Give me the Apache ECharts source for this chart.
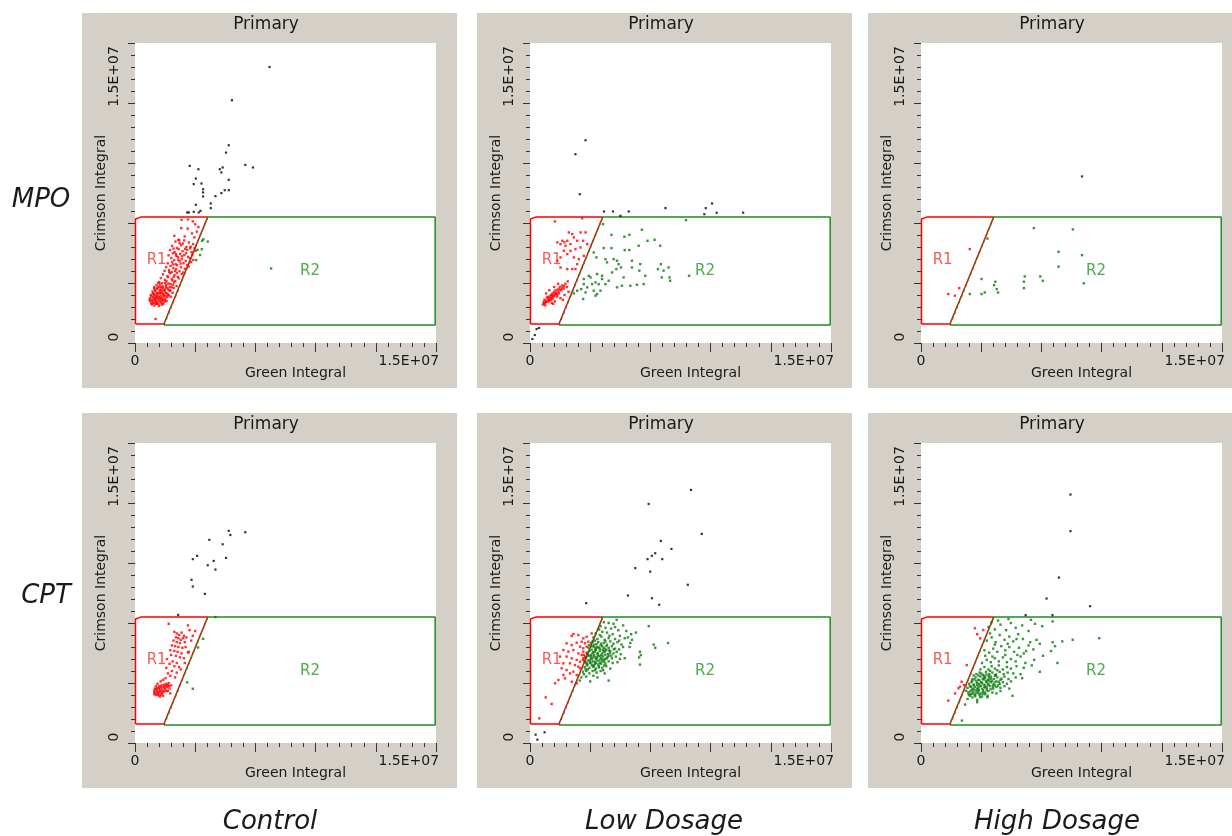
<!DOCTYPE html>
<html><head><meta charset="utf-8">
<script src="https://cdn.jsdelivr.net/npm/echarts@6/dist/echarts.min.js"></script>
<style>html,body{margin:0;padding:0;background:#fff}#c{width:1232px;height:836px}</style>
</head><body><div id="c"></div>
<script>
// All values are in millions (1 = 1E+06)
const rowNames = ['MPO', 'CPT'];
const colNames = ['Control', 'Low Dosage', 'High Dosage'];
const panelTitle = 'Primary';
const xName = 'Green Integral';
const yName = 'Crimson Integral';
const axisMin = 0, axisMax = 18.75, majorStep = 3.75;
const tickValues = [0, 15];
const tickLabels = ['0', '1.5E+07'];

const gateR1 = [[0.03,1.19],[0.03,7.75],[0.35,7.87],[4.53,7.87],[1.8,1.19],[0.03,1.19]];
const gateR2 = [[1.8,1.12],[18.7,1.12],[18.7,7.87],[4.53,7.87]];
const gateR2Edge = [[4.53,7.87],[1.8,1.12]];
const gateLabels = [['R1', 1.35, 5.2], ['R2', 10.9, 4.5]];

// ---- MPO / Control ----
const mpoControlBlack = [[8.38,17.25],[6.04,15.17],[5.84,12.36],[5.67,11.9],[3.41,11.07],[3.95,10.86],[5.28,10.86],[5.46,10.97],[5.38,10.66],[6.87,11.13],[7.35,10.97],[3.79,10.28],[4.14,9.97],[3.66,9.93],[4.24,9.61],[4.24,9.41],[4.24,9.16],[5.84,10.2],[5.59,9.55],[5.84,9.55],[5.38,9.37],[5.01,9.18],[4.72,8.72],[4.72,8.43],[3.79,8.64],[3.66,8.2],[3.97,8.16],[3.25,8.16],[3.35,8.16],[4.08,8.26]];
const mpoControlRed = [[2.9,7.7],[3.3,7.72],[3.6,7.6],[3.75,7.42],[2.88,7.18],[3.28,7.15],[3.85,6.96],[3.55,6.85],[3.7,6.6],[3.95,7.25],[2.7,6.45],[3.1,6.66],[2.45,6.7],
[2.52,6.34],[2.78,6.24],[3.06,6.41],[3.36,6.28],[3.62,6.18],[2.31,6.07],[2.62,5.94],[2.88,6.12],[3.12,5.88],[3.47,6.02],[3.71,5.93],
[2.18,5.81],[2.47,5.69],[2.72,5.86],[2.96,5.74],[3.24,5.82],[3.52,5.68],[3.77,5.76],[2.09,5.48],[2.36,5.61],[2.58,5.44],[2.81,5.57],[3.07,5.49],[3.31,5.38],[3.57,5.52],
[2.26,5.31],[2.44,5.18],[2.67,5.36],[2.91,5.24],[3.16,5.13],[3.42,5.29],[3.63,5.19],[2.04,4.98],[2.31,5.06],[2.53,4.93],[2.77,5.11],[3.02,4.99],[3.26,4.88],[3.49,5.06],
[1.94,4.74],[2.21,4.81],[2.39,4.68],[2.62,4.86],[2.86,4.73],[3.11,4.64],[3.36,4.79],[1.84,4.51],[2.12,4.56],[2.29,4.43],[2.56,4.61],[2.77,4.49],[3.01,4.41],
[1.74,4.29],[2.02,4.18],[2.19,4.36],[2.46,4.24],[2.66,4.14],[2.91,4.31],[1.61,4.06],[1.86,3.94],[2.06,4.11],[2.29,3.99],[2.51,3.88],[2.72,4.04],
[1.51,3.81],[1.69,3.74],[1.96,3.86],[2.21,3.69],[2.44,3.79],[1.34,3.61],[1.56,3.66],[1.74,3.54],[1.94,3.62],[2.16,3.49],[2.36,3.64],[2.59,3.56],
[1.19,3.41],[1.41,3.46],[1.54,3.34],[1.71,3.44],[1.86,3.36],[2.01,3.42],[2.21,3.29],[2.41,3.44],[1.09,3.21],[1.26,3.26],[1.39,3.14],[1.56,3.24],[1.69,3.16],[1.86,3.22],[2.02,3.09],[2.16,3.26],[2.34,3.14],
[0.99,3.01],[1.16,3.06],[1.31,2.94],[1.46,3.04],[1.61,2.96],[1.76,3.06],[1.91,2.94],[2.06,3.01],[2.24,2.89],[0.94,2.81],[1.11,2.86],[1.24,2.74],[1.41,2.84],[1.56,2.76],[1.71,2.81],[1.84,2.69],[2.01,2.86],
[0.96,2.61],[1.09,2.54],[1.26,2.66],[1.39,2.56],[1.54,2.61],[1.71,2.51],[1.86,2.59],[1.06,2.41],[1.21,2.34],[1.36,2.46],[1.49,2.31],[1.66,2.39],
[1.2,3.5],[1.45,3.75],[1.05,2.7],[1.3,2.45],[1.65,3.3],[1.8,3.0],[2.5,4.5],[2.7,5.2],[3.2,6.0],[2.4,5.9],[1.28,1.5],
[1.02,2.92],[1.18,2.98],[1.33,3.09],[1.48,2.88],[1.63,3.11],[1.78,2.91],[1.93,3.13],[1.14,2.66],[1.29,2.79],[1.44,2.71],[1.59,2.83],[1.74,2.66],[1.89,2.77],[1.01,2.47],[1.17,2.49],[1.31,2.58],[1.46,2.44],[1.61,2.53],[1.77,2.44],[1.23,3.33],[1.37,3.38],[1.49,3.52],[1.63,3.49],[1.79,3.29],[1.93,3.51],[2.08,3.34],[2.28,3.49],[1.13,3.12],[1.21,2.82],[1.52,3.13],[1.67,2.68],[1.97,2.62],[2.12,2.97],[1.37,2.93],[0.91,2.69],[1.88,3.74],[2.33,3.91],[2.08,3.72],[2.41,4.13],[2.13,4.44],[2.61,4.38],[2.36,4.91],[2.84,4.96],[2.92,5.42],[3.18,5.62],[2.55,5.55],[2.98,6.22],[3.43,5.92],[2.76,6.42]];
const mpoControlGreen = [[4.26,6.48],[4.53,6.34],[4.16,5.86],[3.89,5.82],[4.18,6.39],[3.81,5.18],[4.05,5.5],[8.48,4.66]];

// ---- MPO / Low Dosage ----
const mpoLowBlack = [[3.46,12.67],[2.83,11.8],[3.1,9.3],[4.61,8.22],[5.17,8.22],[5.63,7.95],[6.15,8.22],[8.44,8.43],[10.95,8.43],[11.34,8.72],[10.86,8.05],[11.63,8.14],[13.28,8.14],[0.15,0.25],[0.41,0.87],[0.56,0.94],[0.3,0.5]];
const mpoLowRed = [[1.55,7.6],[3.25,7.8],[2.42,6.91],[2.63,6.81],[2.73,6.6],[2.32,6.39],[2.01,6.39],[2.15,6.29],[1.7,6.29],[1.9,6.18],[2.21,6.08],[2.52,6.18],[2.94,6.39],[3.15,6.91],[3.46,6.91],[3.31,6.39],[3.56,6.18],[3.15,5.97],[2.83,5.87],[2.52,5.76],[2.11,5.76],[2.32,5.56],[1.9,5.35],[2.73,5.35],[3.04,5.24],[3.35,5.45],[2.94,4.93],[2.63,4.62],[2.83,4.62],[2.32,4.62],[1.9,4.72],[1.7,5.14],
[0.8,2.4],[0.85,2.55],[0.95,2.5],[0.9,2.7],[1.0,2.65],[1.05,2.85],[1.1,2.6],[1.15,2.75],[1.2,2.9],[1.25,2.7],[1.3,3.0],[1.35,2.85],[1.4,3.1],[1.45,2.95],[1.5,3.2],[1.55,3.05],[1.6,3.3],[1.65,3.15],[1.7,2.9],[1.75,3.35],[1.8,3.1],[1.85,3.5],[1.95,3.3],[2.0,3.6],[2.1,3.4],[2.2,3.7],[2.3,3.5],[2.4,3.2],[1.2,3.3],[1.0,3.1],[1.55,2.6],[1.9,2.8],[2.15,3.0],[1.35,2.5],[0.95,2.35],[1.75,3.7],[1.5,3.5],[2.05,2.7],[1.45,2.45],[2.35,3.85],
[0.88,2.48],[1.02,2.58],[1.12,2.82],[1.28,2.82],[1.38,2.98],[1.52,2.92],[1.62,3.08],[1.78,3.22],[1.88,3.35],[2.02,3.45],[1.18,2.62],[1.42,2.78],[1.68,3.02],[2.12,3.55],[1.32,2.68]];
const mpoLowGreen = [[4.55,7.43],[5.07,6.76],[5.88,6.64],[6.19,6.76],[6.97,7.08],[7.32,6.39],[7.76,6.45],[8.11,6.08],[9.72,7.68],[6.77,6.08],[5.9,5.81],[6.19,5.81],[5.07,5.93],[4.59,5.93],[3.97,5.66],[4.14,5.35],[4.7,5.24],[4.8,5.04],[5.21,5.24],[5.42,5.14],[5.52,4.93],[5.67,4.72],[5.38,4.62],[5.11,4.41],[6.35,5.14],[6.35,4.72],[6.87,4.93],[6.81,4.52],[7.18,4.2],[8.15,4.93],[7.97,4.62],[8.32,4.52],[8.63,4.72],[8.21,4.1],[8.73,3.89],[8.69,4.1],[9.91,4.2],[3.66,4.2],[3.35,4.0],[3.77,4.1],[4.18,4.31],[4.49,4.2],[3.87,3.68],[4.08,3.79],[4.28,3.68],[4.49,4.0],[4.7,3.68],[4.9,3.89],[3.56,3.48],[3.35,3.68],[3.19,3.37],[2.94,3.27],[3.46,3.16],[3.97,3.27],[4.18,3.06],[4.39,3.27],[4.08,2.96],[3.31,2.75],[5.42,3.48],[5.73,3.58],[6.25,3.58],[6.66,3.64],[7.08,3.68],[5.83,4.1],[2.73,3.1]];

// ---- MPO / High Dosage ----
const mpoHighBlack = [[10.03,10.41]];
const mpoHighRed = [[3.04,5.87],[1.7,3.06],[2.11,2.96],[2.38,3.43]];
const mpoHighGreen = [[3.77,4.0],[3.04,3.06],[3.77,3.06],[3.97,3.16],[4.63,3.83],[4.55,3.62],[4.72,3.37],[4.8,3.16],[6.46,4.16],[6.41,3.83],[6.41,3.43],[7.43,4.16],[7.59,3.89],[7.03,7.18],[9.46,7.1],[8.57,5.7],[8.57,4.77],[10.03,5.49],[10.14,3.73],[4.14,6.53]];

// ---- CPT / Control ----
const cptControlBlack = [[5.84,13.26],[5.94,13.0],[6.87,13.17],[4.63,12.7],[5.46,12.42],[3.87,11.7],[3.6,11.49],[4.9,11.38],[4.53,11.11],[5.01,10.84],[5.67,11.57],[3.52,10.2],[3.6,9.78],[4.35,9.32],[2.69,8.01]];
const cptControlRed = [[2.1,7.45],[3.3,7.35],[3.4,7.05],[2.45,6.95],[2.6,6.85],[2.75,6.75],[2.9,6.9],[3.05,6.7],[2.55,6.6],[2.7,6.55],[2.85,6.45],[3.0,6.55],[3.2,6.6],[2.4,6.4],[2.6,6.3],[2.8,6.25],[3.1,6.3],[3.5,6.4],[2.3,6.1],[2.5,6.05],[2.7,6.0],[2.95,5.95],[3.15,6.0],[2.2,5.8],[2.45,5.75],[2.65,5.7],[2.9,5.6],[3.3,5.65],[2.25,5.5],[2.55,5.45],[2.8,5.35],[3.05,5.3],[3.6,6.7],[3.75,7.0],[2.0,5.25],[2.35,5.1],[2.6,5.0],[2.15,4.95],[2.45,4.8],[2.75,4.75],[1.95,4.7],[2.3,4.5],[2.6,4.4],[2.05,4.35],[2.85,4.6],[2.2,4.2],[2.5,4.1],[3.1,5.0],[3.35,5.7],
[1.3,3.0],[1.45,3.05],[1.6,3.0],[1.2,3.2],[1.35,3.25],[1.5,3.2],[1.65,3.15],[1.8,3.2],[1.95,3.25],[1.25,3.4],[1.4,3.45],[1.55,3.35],[1.7,3.4],[1.85,3.45],[2.0,3.5],[2.15,3.4],[1.5,3.55],[1.65,3.6],[1.8,3.65],[1.95,3.7],[2.1,3.75],[1.4,3.7],[1.6,3.85],[1.75,3.95],[1.9,4.05],[2.25,3.6],[1.3,3.55],[2.05,3.25],[1.2,3.05],[2.2,3.1],[1.55,2.9],[1.75,2.95],
[1.28,3.12],[1.42,3.15],[1.58,3.28],[1.72,3.26],[1.88,3.34],[1.35,3.36],[1.48,3.42],[1.62,3.51],[1.78,3.52],[1.92,3.58],[2.05,3.62],[1.45,2.98],[1.68,3.08],[1.22,3.32],[2.12,3.55]];
const cptControlGreen = [[5.01,7.87],[4.24,6.51],[3.93,5.97],[3.25,3.79],[3.6,3.39]];

// ---- CPT / Low Dosage ----
const cptLowBlack = [[10.03,15.82],[7.39,14.94],[10.7,13.07],[8.15,12.63],[8.81,12.13],[7.8,11.86],[7.59,11.7],[7.32,11.49],[8.24,11.49],[6.56,10.93],[7.49,10.71],[9.83,9.89],[6.1,9.22],[7.59,9.05],[8.05,8.64],[3.5,8.74],[0.35,0.52],[0.46,0.21],[0.91,0.67]];
const cptLowRed = [[2.7,6.81],[2.6,6.69],[3.01,6.75],[3.32,6.54],[3.53,6.64],[3.84,6.85],[3.63,6.33],[2.28,6.23],[2.6,6.12],[2.91,6.27],[3.12,6.02],[3.32,5.92],[3.43,6.23],[2.08,5.81],[2.39,5.71],[2.7,5.81],[3.01,5.6],[3.22,5.5],[3.32,5.71],[3.53,6.02],[1.87,5.4],[2.28,5.4],[2.6,5.29],[2.91,5.19],[3.12,5.08],[3.32,5.29],[2.08,4.98],[2.49,4.98],[2.8,4.87],[3.01,4.77],[1.97,4.67],[2.28,4.56],[2.7,4.46],[3.12,4.67],[2.49,4.35],[2.08,4.25],[2.91,4.25],[1.77,3.94],[2.18,4.04],[2.6,3.83],[1.56,3.73],[2.91,3.73],[0.98,2.85],[1.35,2.44],[0.58,1.54],[3.43,5.4],[3.53,5.6],[3.22,6.33],[3.35,5.5],[3.45,5.3],[3.3,5.2],[3.4,5.1]];
const cptLowGreen = [[5.4,7.7],[4.6,7.55],[4.9,7.5],[5.2,7.45],[5.8,7.35],[4.4,7.3],[7.4,7.3],
[4.3,7.1],[4.7,7.2],[5.05,7.15],[5.5,7.05],[6.0,7.0],[4.5,6.95],[5.3,7.25],
[4.1,6.85],[4.35,6.75],[4.8,6.9],[5.15,6.8],[5.6,6.7],[6.3,6.8],[6.6,6.9],[4.95,6.7],
[3.95,6.6],[4.2,6.5],[4.45,6.65],[4.65,6.45],[4.9,6.55],[5.3,6.5],[5.55,6.4],[5.9,6.55],[6.35,6.45],[6.1,6.6],[4.05,6.4],
[3.8,6.25],[4.0,6.15],[4.25,6.3],[4.4,6.1],[4.6,6.25],[4.8,6.15],[5.0,6.35],[5.2,6.2],[5.45,6.3],[5.7,6.15],[6.25,6.25],[7.7,6.15],[3.9,6.35],[4.7,6.35],
[3.65,5.95],[3.85,6.05],[4.05,5.85],[4.2,6.0],[4.35,5.9],[4.5,6.05],[4.7,5.85],[4.9,5.95],[5.1,6.05],[5.3,5.9],[5.55,5.85],[5.8,6.0],[8.6,6.25],[7.8,5.95],[4.1,5.95],[4.6,5.95],
[3.55,5.65],[3.7,5.75],[3.9,5.6],[4.05,5.7],[4.2,5.55],[4.35,5.75],[4.5,5.6],[4.65,5.7],[4.85,5.55],[5.0,5.75],[5.2,5.6],[5.4,5.7],[5.65,5.55],[6.85,5.7],[3.8,5.5],[4.45,5.5],[4.1,5.8],[4.75,5.8],
[3.5,5.35],[3.65,5.45],[3.8,5.3],[3.95,5.4],[4.1,5.25],[4.25,5.45],[4.4,5.3],[4.55,5.4],[4.7,5.25],[4.9,5.45],[5.1,5.3],[5.35,5.4],[5.6,5.25],[6.8,5.35],[4.0,5.5],[4.6,5.2],
[3.45,5.05],[3.6,5.15],[3.75,5.0],[3.9,5.1],[4.05,4.95],[4.2,5.15],[4.35,5.0],[4.5,5.1],[4.7,4.95],[4.9,5.1],[5.15,5.0],[5.45,5.05],[6.85,4.9],[3.85,4.9],[4.25,4.9],
[3.4,4.75],[3.55,4.85],[3.7,4.7],[3.9,4.8],[4.1,4.65],[4.3,4.8],[4.5,4.7],[4.75,4.8],[5.0,4.65],[3.6,4.6],[4.0,4.85],
[3.3,4.45],[3.5,4.5],[3.7,4.35],[3.9,4.5],[4.15,4.4],[4.4,4.5],[4.65,4.35],[3.35,4.3],
[3.2,4.1],[3.5,4.15],[3.75,3.85],[4.9,3.9],[3.95,4.2],[3.1,3.9],[4.2,4.1],[6.9,5.5],[6.2,6.0],[5.9,5.3],
[3.62,5.52],[3.78,5.41],[3.93,5.68],[4.08,5.36],[4.23,5.62],[4.38,5.44],[4.53,5.83],[4.68,5.52],[4.83,5.36],[4.98,5.62],[3.72,5.18],[3.88,5.27],[4.03,5.08],[4.18,5.33],[4.33,5.16],[4.48,5.24],[4.63,5.07],[4.78,5.29],[3.58,4.93],[3.74,5.06],[3.96,4.76],[4.12,5.01],[4.28,4.72],[4.44,4.96],[4.62,4.84],[3.84,5.83],[3.98,6.02],[4.14,6.17],[4.28,5.96],[4.44,6.21],[4.58,5.74],[4.76,6.05],[4.92,5.78],[5.06,5.46],[5.22,5.86],[3.68,6.12],[3.52,4.98],[3.46,4.62],[4.05,4.55],[4.56,4.55]];

// ---- CPT / High Dosage ----
const cptHighBlack = [[9.31,15.53],[9.31,13.24],[8.59,10.34],[7.82,9.03],[10.53,8.55],[6.52,7.99],[8.19,7.99]];
const cptHighRed = [[3.36,7.17],[3.88,7.06],[3.68,6.54],[3.5,6.8],[2.85,4.87],[2.68,3.62],[2.43,3.52],[2.33,3.42],[2.12,3.1],[1.7,2.65],[2.53,3.83]];
const cptHighGreen = [[2.9,2.75],[3.2,2.85],[3.5,2.7],[3.8,2.9],[3.05,2.95],[3.35,3.0],[4.15,2.95],[3.65,3.0],[2.75,2.4],[3.5,2.55],[5.7,2.95],[2.55,1.4],
[2.95,3.15],[3.1,3.05],[3.25,3.2],[3.4,3.1],[3.55,3.25],[3.7,3.1],[3.85,3.2],[4.0,3.05],[4.2,3.25],[4.45,3.15],[4.7,3.1],[3.15,3.3],[3.6,3.3],[4.1,3.3],[4.95,3.25],
[2.9,3.45],[3.05,3.55],[3.2,3.4],[3.35,3.5],[3.5,3.4],[3.65,3.55],[3.8,3.4],[3.95,3.5],[4.1,3.45],[4.3,3.55],[4.5,3.4],[4.7,3.5],[4.95,3.45],[5.2,3.55],[3.3,3.35],[4.0,3.6],[4.6,3.6],[5.5,3.4],
[3.0,3.7],[3.15,3.8],[3.3,3.65],[3.45,3.85],[3.6,3.7],[3.75,3.8],[3.9,3.65],[4.05,3.85],[4.2,3.7],[4.35,3.8],[4.5,3.65],[4.7,3.85],[4.9,3.7],[5.1,3.8],[5.35,3.7],[5.6,3.85],[3.5,3.6],[4.25,3.9],[4.8,3.6],
[3.2,4.0],[3.4,4.1],[3.55,3.95],[3.7,4.15],[3.85,4.0],[4.0,4.1],[4.15,3.95],[4.35,4.15],[4.55,4.0],[4.75,4.1],[4.95,3.95],[5.2,4.15],[5.45,4.0],[5.9,4.1],[6.3,4.05],[3.95,4.2],[4.6,4.2],
[3.45,4.3],[3.65,4.4],[3.85,4.25],[4.05,4.45],[4.25,4.3],[4.45,4.4],[4.65,4.25],[4.9,4.45],[5.15,4.3],[5.4,4.4],[5.75,4.35],[6.2,4.3],[4.3,4.5],
[3.7,4.6],[3.95,4.75],[4.2,4.6],[4.4,4.8],[4.6,4.65],[4.85,4.85],[5.1,4.6],[5.35,4.75],[5.6,4.65],[5.95,4.8],[6.4,4.7],[4.75,4.55],[7.4,4.45],[6.9,4.85],
[3.8,5.0],[4.1,5.2],[4.35,5.05],[4.6,5.3],[4.85,5.1],[5.1,5.35],[5.35,5.05],[5.6,5.25],[5.9,5.1],[6.2,5.4],[6.5,5.0],[7.05,5.2],[4.0,5.45],[4.45,5.4],[5.25,5.5],[7.6,5.45],[8.5,5.0],[6.0,5.5],
[3.95,5.8],[4.25,5.65],[4.5,5.9],[4.75,5.7],[5.0,6.05],[5.25,5.8],[5.5,6.0],[5.8,5.7],[6.1,5.95],[6.4,5.6],[6.7,6.1],[7.0,5.85],[7.4,6.2],[4.6,6.15],[5.4,6.2],[8.1,5.75],[8.35,6.05],[6.55,5.75],
[4.1,6.4],[4.4,6.6],[4.65,6.3],[4.9,6.75],[5.2,6.45],[5.5,6.65],[5.75,6.35],[6.05,6.8],[6.35,6.5],[6.8,6.3],[7.2,6.45],[8.2,6.3],[9.45,6.45],[11.1,6.55],[8.8,6.35],[4.3,6.85],[5.95,6.5],
[4.2,7.25],[4.6,7.1],[4.95,7.4],[5.3,7.05],[5.6,7.5],[5.9,7.2],[6.3,7.35],[6.7,7.0],[7.1,7.45],[7.55,7.3],[8.2,7.6],[4.8,7.65],[5.45,7.75],[6.85,7.7],[4.4,7.55],
[3.12,3.52],[3.28,3.62],[3.42,3.28],[3.58,3.45],[3.72,3.58],[3.87,3.31],[4.02,3.47],[4.18,3.62],[4.34,3.36],[4.48,3.52],[3.18,3.88],[3.34,3.97],[3.49,3.74],[3.64,3.92],[3.79,3.76],[3.94,3.97],[4.09,3.79],[4.24,4.04],[4.42,3.87],[4.58,3.78],[3.06,3.22],[3.22,3.08],[3.38,2.92],[3.54,3.12],[3.68,2.86],[3.84,3.06],[3.99,3.16],[4.14,2.86],[3.58,4.22],[3.76,4.34],[3.92,4.08],[4.08,4.28],[4.22,4.18],[4.38,4.02],[4.68,4.28],[4.84,3.82],[5.02,4.02],[2.98,3.02],[2.82,3.26],[3.28,4.22]];

const panelData = [
  [mpoControlBlack, mpoControlRed, mpoControlGreen],
  [mpoLowBlack, mpoLowRed, mpoLowGreen],
  [mpoHighBlack, mpoHighRed, mpoHighGreen],
  [cptControlBlack, cptControlRed, cptControlGreen],
  [cptLowBlack, cptLowRed, cptLowGreen],
  [cptHighBlack, cptHighRed, cptHighGreen]
];

// ---- layout ----
const FONT = 'DejaVu Sans';
const gridLefts = [135, 530, 921];
const gridTops = [43, 443];
const GW = 301, GH = 300;
const PANEL_BG = '#d4d0c8';
const TXT = '#1a1a1a';
const RED = '#ff0000', GREEN = '#1e8c1e', DOT_GREEN = '#0a7a0a', BLACK = '#000';
const DOT = 2.4;

const grids = [], xAxes = [], yAxes = [], series = [], graphics = [];

for (let r = 0; r < 2; r++) {
  for (let c = 0; c < 3; c++) {
    const gi = r * 3 + c;
    const L = gridLefts[c], T = gridTops[r];
    graphics.push({type: 'rect', z: -10, silent: true,
      shape: {x: L - 53, y: T - 30, width: 375, height: 375}, style: {fill: PANEL_BG}});
    graphics.push({type: 'text', x: L + 131, y: T - 18, silent: true,
      style: {text: panelTitle, font: '17px "' + FONT + '"', fill: TXT, align: 'center', verticalAlign: 'middle'}});
    grids.push({left: L, top: T, width: GW, height: GH, show: true, backgroundColor: '#fff', borderWidth: 0, outerBoundsMode: 'none'});
    const labelFmt = v => {
      const i = tickValues.indexOf(v);
      return i < 0 ? '' : '{' + (i === 0 ? 'a' : 'b') + '|' + tickLabels[i] + '}';
    };
    const baseLbl = {fontSize: 14, fontFamily: FONT, color: TXT};
    xAxes.push({
      gridIndex: gi, type: 'value', min: axisMin, max: axisMax, interval: majorStep,
      name: xName, nameLocation: 'middle', nameGap: 23, nameMoveOverlap: false,
      nameTextStyle: {fontSize: 14, fontFamily: FONT, color: TXT, padding: [0, 0, 0, 20]},
      axisLine: {show: false},
      axisTick: {show: true, length: 9, lineStyle: {color: '#333', width: 1}},
      minorTick: {show: true, splitNumber: 5, length: 4, lineStyle: {color: '#333', width: 1}},
      splitLine: {show: false}, minorSplitLine: {show: false},
      axisLabel: {customValues: tickValues, margin: 11, formatter: labelFmt,
        rich: {a: Object.assign({}, baseLbl), b: Object.assign({padding: [0, 0, 0, 66]}, baseLbl)}}
    });
    yAxes.push({
      gridIndex: gi, type: 'value', min: axisMin, max: axisMax, interval: majorStep,
      name: yName, nameLocation: 'middle', nameGap: 27, nameMoveOverlap: false,
      nameTextStyle: {fontSize: 14, fontFamily: FONT, color: TXT},
      axisLine: {show: false},
      axisTick: {show: true, length: 7, lineStyle: {color: '#333', width: 1}},
      minorTick: {show: true, splitNumber: 5, length: 4, lineStyle: {color: '#333', width: 1}},
      splitLine: {show: false}, minorSplitLine: {show: false},
      axisLabel: {customValues: tickValues, rotate: 90, margin: 14, formatter: labelFmt,
        rich: {a: Object.assign({padding: [0, 0, 0, 12]}, baseLbl), b: Object.assign({padding: [0, 0, 0, 53]}, baseLbl)}}
    });
    const ax = {xAxisIndex: gi, yAxisIndex: gi};
    series.push(Object.assign({type: 'line', data: gateR1, symbol: 'none', silent: true, z: 2,
      lineStyle: {color: RED, width: 1.5}}, ax));
    series.push(Object.assign({type: 'line', data: gateR2, symbol: 'none', silent: true, z: 2,
      lineStyle: {color: GREEN, width: 1.5}}, ax));
    series.push(Object.assign({type: 'line', data: gateR2Edge, symbol: 'none', silent: true, z: 2,
      lineStyle: {color: GREEN, width: 1.5, type: [3, 3]}}, ax));
    const [blk, red, grn] = panelData[gi];
    series.push(Object.assign({type: 'scatter', data: red, symbol: 'rect', symbolSize: DOT, silent: true, z: 3,
      itemStyle: {color: RED}}, ax));
    series.push(Object.assign({type: 'scatter', data: grn, symbol: 'rect', symbolSize: DOT, silent: true, z: 3,
      itemStyle: {color: DOT_GREEN}}, ax));
    series.push(Object.assign({type: 'scatter', data: blk, symbol: 'rect', symbolSize: 2.2, silent: true, z: 3,
      itemStyle: {color: BLACK}}, ax));
    series.push(Object.assign({type: 'scatter', symbolSize: 0, silent: true, z: 4,
      data: gateLabels.map(g => ({name: g[0], value: [g[1], g[2]],
        label: {color: g[0] === 'R1' ? '#f23030' : '#1f931f'}})),
      label: {show: true, position: 'inside', formatter: '{b}', fontSize: 15, fontFamily: FONT}}, ax));
  }
}

// row / column captions
const rowCenters = [[41, 200], [46, 596]];
rowNames.forEach((n, i) => graphics.push({type: 'text', x: rowCenters[i][0], y: rowCenters[i][1], silent: true,
  style: {text: n, font: 'italic 26px "' + FONT + '"', fill: TXT, align: 'center', verticalAlign: 'middle'}}));
const colCenters = [270, 664, 1057];
colNames.forEach((n, i) => graphics.push({type: 'text', x: colCenters[i], y: 822, silent: true,
  style: {text: n, font: 'italic 26px "' + FONT + '"', fill: TXT, align: 'center', verticalAlign: 'middle'}}));

const chart = echarts.init(document.getElementById('c'), null, {renderer: 'canvas'});
chart.setOption({
  animation: false,
  backgroundColor: '#fff',
  grid: grids, xAxis: xAxes, yAxis: yAxes, series: series,
  graphic: {elements: graphics}
});
</script></body></html>
